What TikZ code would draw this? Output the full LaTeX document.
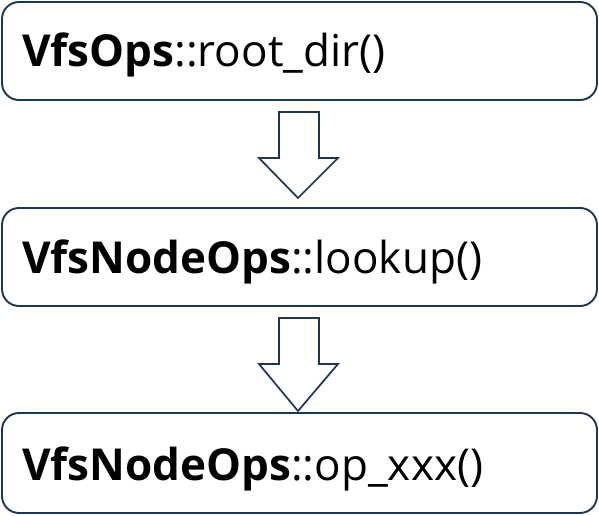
\documentclass[tikz,border=0pt]{standalone}
\usepackage{fontspec}
\setmainfont{Open Sans}
\definecolor{navy}{HTML}{1F3558}
\begin{document}
\begin{tikzpicture}[x=1pt,y=-1pt,
  boxstyle/.style={draw=navy,line width=1.9pt,rounded corners=17pt,fill=white},
  labelstyle/.style={anchor=base west,inner sep=0pt,font=\fontsize{44}{50}\selectfont},
  blockarrow/.style={draw=navy,line width=1.7pt,fill=white,line join=miter}]
\useasboundingbox (0,0) rectangle (599,516);
\draw[boxstyle] (2,2) rectangle (597,100);
\coordinate (b1) at (298,100);
\node[labelstyle] (t1) at (22,67) {\textbf{VfsOps}::root\_dir()};
\draw[boxstyle] (2,208) rectangle (597,306);
\coordinate (b2) at (298,306);
\coordinate (t2top) at (298,208);
\node[labelstyle] (t2) at (22,273) {\textbf{VfsNodeOps}::lookup()};
\draw[boxstyle] (2,413) rectangle (597,513);
\coordinate (t3top) at (298,413);
\node[labelstyle] (t3) at (22,480) {\textbf{VfsNodeOps}::op\_xxx()};
\draw[blockarrow] ([shift={(-19,12)}]b1) -- ([shift={(21,12)}]b1) -- ([shift={(21,58)}]b1)
  -- ([shift={(40,58)}]b1) -- ([shift={(0,-10)}]t2top) -- ([shift={(-39,58)}]b1)
  -- ([shift={(-19,58)}]b1) -- cycle;
\draw[blockarrow] ([shift={(-19,12)}]b2) -- ([shift={(21,12)}]b2) -- ([shift={(21,58)}]b2)
  -- ([shift={(40,58)}]b2) -- ([shift={(0,-2)}]t3top) -- ([shift={(-39,58)}]b2)
  -- ([shift={(-19,58)}]b2) -- cycle;
\end{tikzpicture}
\end{document}
